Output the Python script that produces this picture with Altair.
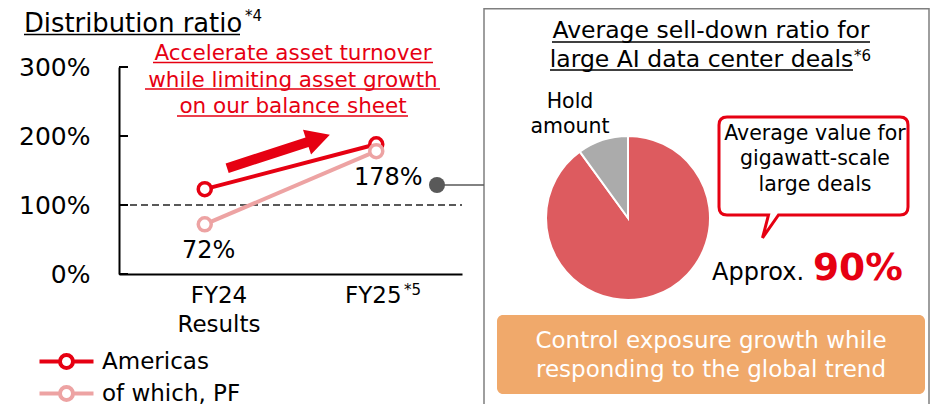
import altair as alt
import pandas as pd

FONT = "DejaVu Sans"
RED = "#E60012"
PINK = "#EDA3A3"
DARK = "#595959"

# ---------------- data ----------------
periods = ["FY24", "FY25"]
period_sub = ["Results", ""]
series_names = ["Americas", "of which, PF"]
americas = [123, 188]
pf = [72, 178]
y_ticks = [0, 100, 200, 300]
pie_parts = ["Sell-down", "Hold amount"]
pie_values = [90, 10]
pie_colors = ["#DD5B5F", "#ABABAB"]

rows = []
for s, vals in zip(series_names, [americas, pf]):
    for i, (p, v) in enumerate(zip(periods, vals)):
        rows.append({"series": s, "period": p, "pos": i + 0.5, "value": v})
df = pd.DataFrame(rows)
pf_df = df[df.series == "of which, PF"].copy()
pf_df["label"] = pf_df["value"].astype(str) + "%"
pie_df = pd.DataFrame({"part": pie_parts, "value": pie_values, "ord": [0, 1]})
tick_df = pd.DataFrame({"value": y_ticks})
one = pd.DataFrame({"k": [0]})

H = 396

# ---------------- scales ----------------
xs = alt.Scale(domain=[0, 2], range=[111, 454])
ys = alt.Scale(domain=[0, 300], range=[266, 59])
stroke_scale = alt.Scale(domain=series_names, range=[RED, PINK])

legend_path = ("M-27,0L-6.5,0M6.5,0L27,0M6.5,0A6.5,6.5,0,1,1,-6.5,0"
               "A6.5,6.5,0,1,1,6.5,0")
leg = alt.Legend(title=None, orient="none", legendX=47, legendY=342,
                 symbolType=legend_path, symbolSize=4, symbolStrokeWidth=4,
                 symbolFillColor="white", labelFontSize=23, labelFont=FONT,
                 labelColor="black", labelOffset=24, rowPadding=3,
                 direction="vertical")

x_label_expr = ("datum.value < 1 ? ['%s','%s'] : '%s'"
                % (periods[0], period_sub[0], periods[1]))

x_enc = alt.X("pos:Q", scale=xs,
              axis=alt.Axis(values=[0.58, 1.48], labelExpr=x_label_expr,
                            ticks=False, grid=False, domainColor="black",
                            domainWidth=2, labelFontSize=23, labelFont=FONT,
                            labelColor="black", labelLineHeight=29,
                            labelPadding=10, offset=-(H - 266), labelAngle=0,
                            title=None, labelOverlap=False))
y_enc = alt.Y("value:Q", scale=ys,
              axis=alt.Axis(values=y_ticks, labelExpr="datum.value + '%'",
                            ticks=False, grid=False, domainColor="black",
                            domainWidth=2, labelFontSize=25, labelFont=FONT,
                            labelColor="black", labelPadding=29, offset=-111,
                            title=None))

lines = alt.Chart(df).mark_line(strokeWidth=4).encode(
    x=x_enc, y=y_enc,
    stroke=alt.Stroke("series:N", scale=stroke_scale, legend=leg),
    detail="series:N")
points = alt.Chart(df).mark_point(filled=True, fill="white", size=169,
                                  strokeWidth=3.5, opacity=1).encode(
    x=alt.X("pos:Q", scale=xs), y=alt.Y("value:Q", scale=ys),
    stroke=alt.Stroke("series:N", scale=stroke_scale, legend=leg))

ticks = alt.Chart(tick_df).mark_rule(color="black", strokeWidth=2).encode(
    y=alt.Y("value:Q", scale=ys), x=alt.value(111), x2=alt.value(120))
ref = alt.Chart(one).mark_rule(color=DARK, strokeWidth=2.2, strokeDash=[7, 4]).encode(
    y=alt.datum(100, scale=ys), x=alt.value(111), x2=alt.value(454))

lab72 = alt.Chart(pf_df[pf_df.period == "FY24"]).mark_text(
    fontSize=24, font=FONT, color="black", dx=4, dy=27).encode(
    x=alt.X("pos:Q", scale=xs), y=alt.Y("value:Q", scale=ys), text="label:N")
lab178 = alt.Chart(pf_df[pf_df.period == "FY25"]).mark_text(
    fontSize=24, font=FONT, color="black", dx=12, dy=27).encode(
    x=alt.X("pos:Q", scale=xs), y=alt.Y("value:Q", scale=ys), text="label:N")


def txt(s, x, y, size, color="black", align="center", weight="normal",
        baseline="alphabetic"):
    return alt.Chart(one).mark_text(text=s, fontSize=size, font=FONT,
                                    color=color, align=align,
                                    fontWeight=weight, baseline=baseline).encode(
        x=alt.value(x), y=alt.value(y))


def uline(x1, x2, y, color="black", w=1.5):
    return alt.Chart(one).mark_rule(color=color, strokeWidth=w).encode(
        x=alt.value(x1), x2=alt.value(x2), y=alt.value(y))


arrow_path = "M-54,-5L30,-5L30,-13L54,0L30,13L30,5L-54,5Z"
arrow = alt.Chart(one).mark_point(shape=arrow_path, size=4, filled=True,
                                  fill=RED, strokeWidth=0, angle=342,
                                  opacity=1).encode(
    x=alt.value(270.5), y=alt.value(143.5))

connector = alt.Chart(one).mark_rule(color=DARK, strokeWidth=1.5).encode(
    x=alt.value(429), x2=alt.value(476), y=alt.value(177))
dot = alt.Chart(one).mark_circle(size=256, color=DARK, opacity=1).encode(
    x=alt.value(429), y=alt.value(177))

box = alt.Chart(one).mark_rect(fillOpacity=0, stroke="#7F7F7F",
                               strokeWidth=1.5).encode(
    x=alt.value(476), x2=alt.value(921), y=alt.value(0.75), y2=alt.value(420))

pie = alt.Chart(pie_df).mark_arc(radius=82, stroke="white", strokeWidth=2).encode(
    theta=alt.Theta("value:Q", stack=True),
    order=alt.Order("ord:Q"),
    fill=alt.Fill("part:N", scale=alt.Scale(domain=pie_parts, range=pie_colors),
                  legend=None),
    x=alt.value(620), y=alt.value(210))

callout_path = ("M-86.5,-49L86.5,-49Q94.5,-49,94.5,-41L94.5,41Q94.5,49,86.5,49"
                "L-35,49L-51,72L-45,49L-86.5,49Q-94.5,49,-94.5,41L-94.5,-41"
                "Q-94.5,-49,-86.5,-49Z")
callout = alt.Chart(one).mark_point(shape=callout_path, size=4, filled=True,
                                    fill="white", stroke=RED, strokeWidth=3,
                                    opacity=1).encode(
    x=alt.value(805.5), y=alt.value(158))

orange = alt.Chart(one).mark_rect(fill="#F0A96B", cornerRadius=6).encode(
    x=alt.value(489), x2=alt.value(917), y=alt.value(307), y2=alt.value(386))

layers = [
    box, connector, dot, ref, ticks, lines, points, lab72, lab178, arrow,
    txt("Distribution ratio", 16, 24, 25.8, align="left"),
    uline(16, 232, 26.5),
    txt("*4", 237, 8, 15, align="left", baseline="middle"),
    txt("Accelerate asset turnover", 285, 52, 21.5, color=RED),
    uline(145, 425, 54.5, color=RED),
    txt("while limiting asset growth", 285, 79, 21.5, color=RED),
    uline(137, 432, 81, color=RED),
    txt("on our balance sheet", 285, 105, 21.5, color=RED),
    uline(169, 400, 108, color=RED),
    txt("*5", 396, 282, 15, align="left", baseline="middle"),
    txt("Average sell-down ratio for", 703, 30, 23.5),
    uline(544, 862, 34),
    txt("large AI data center deals", 693.5, 59, 23.5),
    uline(542, 845, 62),
    txt("*6", 846, 48, 15, align="left", baseline="middle"),
    txt("Hold", 562, 100, 20.5),
    txt("amount", 562, 125, 20.5),
    pie, callout,
    txt("Average value for", 807, 132, 20.5),
    txt("gigawatt-scale", 807, 157, 20.5),
    txt("large deals", 807, 183, 20.5),
    txt("Approx.", 704, 272, 24, align="left"),
    txt("90%", 805, 272, 37.5, color=RED, align="left", weight="bold"),
    orange,
    txt("Control exposure growth while", 703, 340, 23, color="white"),
    txt("responding to the global trend", 703, 369, 23, color="white"),
]

chart = alt.layer(*layers).properties(
    width=922, height=H, padding=0,
    autosize=alt.AutoSizeParams(type="none"),
).configure_view(strokeWidth=0).resolve_scale(fill="independent")

chart.save("out.html", embed_options={"renderer": "svg", "actions": False})
